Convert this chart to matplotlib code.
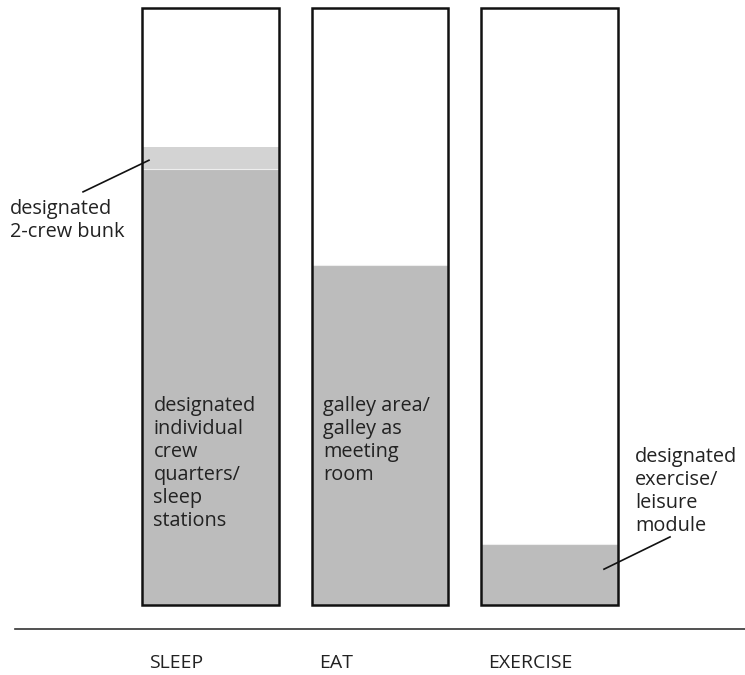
import matplotlib
matplotlib.use("Agg")
import matplotlib.pyplot as plt

categories = ["SLEEP", "EAT", "EXERCISE"]
main_values = [0.730, 0.570, 0.102]
bunk_top = 0.767  # SLEEP: light band (designated 2-crew bunk) top
inner_labels = ["designated\nindividual\ncrew\nquarters/\nsleep\nstations",
                "galley area/\ngalley as\nmeeting\nroom",
                ""]

plt.rcParams['font.family'] = ['Open Sans', 'DejaVu Sans']

W, H = 745, 675
fig = plt.figure(figsize=(W / 100, H / 100), dpi=100)
ax = fig.add_axes([0, (H - 605) / H, 1, (605 - 8) / H])
ax.set_xlim(-210.5 / 169.5, (W - 210.5) / 169.5)
ax.set_ylim(0, 1)
ax.axis('off')

x = list(range(len(categories)))
bw = 0.808
dark = '#bcbcbc'
light = '#d3d3d3'
txt = '#222222'
fs = 14.3
ls = 1.2

# light band for 2-crew bunk
ax.bar([0], [bunk_top - main_values[0]], bottom=[main_values[0]], width=bw,
       color=light, edgecolor='none', zorder=1)
ax.bar(x, main_values, width=bw, color=dark, edgecolor='#eeeeee', linewidth=0.8, zorder=2)
# outlines
ax.bar(x, [1] * len(x), width=bw, facecolor='none', edgecolor='#111111', linewidth=1.8, zorder=3,
       clip_on=False)

for i, lab in enumerate(inner_labels):
    if lab:
        ax.text(i - 0.337, 0.350, lab, ha='left', va='top', fontsize=fs, color=txt,
                linespacing=ls, zorder=4)

# baseline and category labels
ax.plot([15 / 169.5 - 210.5 / 169.5, (W - 210.5) / 169.5], [-0.040, -0.040],
        color='#333333', lw=1.2, clip_on=False)
for i, c in enumerate(categories):
    ax.text(i - 0.36, -0.097, c, ha='left', va='center', fontsize=fs - 0.3, color=txt)

# annotations
ax.plot([-0.752, -0.363], [0.692, 0.745], color='#111111', lw=1.2, zorder=5, clip_on=False)
ax.text(-1.183, 0.680, "designated\n2-crew bunk", ha='left', va='top', fontsize=fs,
        color=txt, linespacing=ls)
ax.plot([2.711, 2.3215], [0.114, 0.060], color='#111111', lw=1.2, zorder=5, clip_on=False)
ax.text(2.504, 0.265, "designated\nexercise/\nleisure\nmodule", ha='left', va='top',
        fontsize=fs, color=txt, linespacing=ls)

fig.savefig("out.png", dpi=100, facecolor='white')
